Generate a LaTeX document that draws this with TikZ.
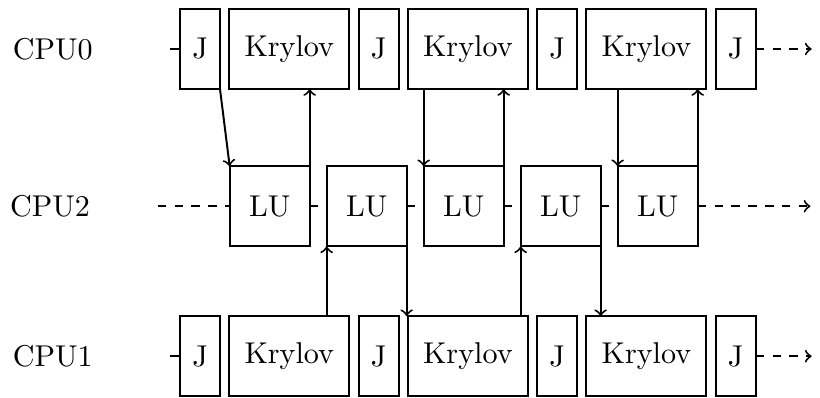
\documentclass[tikz,border=0pt]{standalone}
\usetikzlibrary{positioning}
\tikzset{
  jbox/.style={draw,minimum width=0.5cm,minimum height=1cm,inner sep=0pt,outer sep=0pt},
  krybox/.style={draw,minimum width=1.5cm,minimum height=1cm,inner sep=0pt,outer sep=0pt},
  lubox/.style={draw,minimum width=1cm,minimum height=1cm,inner sep=0pt,outer sep=0pt},
}
\def\drawmsg{\draw[->]}
\def\drawidle{\draw[dashed]}

\begin{document}
\begin{tikzpicture}[font=\fontsize{10.7}{13}\selectfont,line width=0.7pt,>=to,node distance=0.116cm]
\useasboundingbox (0,0) rectangle (10.25,4.9625);

% ---------- CPU0 (top row)
\node (cpu0) at (0.66,4.35) {CPU0};
\node[jbox] (J01) at (2.5,4.35) {J};
\node[krybox,right=of J01] (K01) {Krylov};
\node[jbox,right=of K01] (J02) {J};
\node[krybox,right=of J02] (K02) {Krylov};
\node[jbox,right=of K02] (J03) {J};
\node[krybox,right=of J03] (K03) {Krylov};
\node[jbox,right=of K03] (J04) {J};
\coordinate[left=0.125cm of J01.west] (in0);
\coordinate[right=0.7cm of J04.east] (out0);
\draw (in0) -- (J01);
\drawidle[->] (J04) -- (out0);

% ---------- CPU2 (middle row), LU factorisations
\node (cpu2) at (0.625,2.384) {CPU2};
\node[lubox] (L1) at (3.371,2.384) {LU};
\node[lubox,right=0.2125cm of L1] (L2) {LU};
\node[lubox,right=0.2125cm of L2] (L3) {LU};
\node[lubox,right=0.2125cm of L3] (L4) {LU};
\node[lubox,right=0.2125cm of L4] (L5) {LU};
\coordinate[left=0.9cm of L1.west] (in2);
\coordinate[right=1.41cm of L5.east] (out2);
\drawidle (in2) -- (L1);
\drawidle (L1) -- (L2);
\drawidle (L2) -- (L3);
\drawidle (L3) -- (L4);
\drawidle (L4) -- (L5);
\drawidle[->] (L5) -- (out2);

% ---------- CPU1 (bottom row)
\node (cpu1) at (0.66,0.51) {CPU1};
\node[jbox] (J11) at (2.5,0.51) {J};
\node[krybox,right=of J11] (K11) {Krylov};
\node[jbox,right=of K11] (J12) {J};
\node[krybox,right=of J12] (K12) {Krylov};
\node[jbox,right=of K12] (J13) {J};
\node[krybox,right=of J13] (K13) {Krylov};
\node[jbox,right=of K13] (J14) {J};
\coordinate[left=0.125cm of J11.west] (in1);
\coordinate[right=0.7cm of J14.east] (out1);
\draw (in1) -- (J11);
\drawidle[->] (J14) -- (out1);

% messages CPU0 <-> CPU2
\drawmsg (J01.south east) -- (L1.north west);
\drawmsg (L1.north east) -- (L1.north east |- K01.south);
\drawmsg (K02.south -| L3.north west) -- (L3.north west);
\drawmsg (L3.north east) -- (L3.north east |- K02.south);
\drawmsg (K03.south -| L5.north west) -- (L5.north west);
\drawmsg (L5.north east) -- (L5.north east |- K03.south);

% messages CPU1 <-> CPU2
\drawmsg (K11.north -| L2.south west) -- (L2.south west);
\drawmsg (L2.south east) -- (L2.south east |- K12.north);
\drawmsg (K12.north -| L4.south west) -- (L4.south west);
\drawmsg (L4.south east) -- (L4.south east |- K13.north);
\end{tikzpicture}
\end{document}
